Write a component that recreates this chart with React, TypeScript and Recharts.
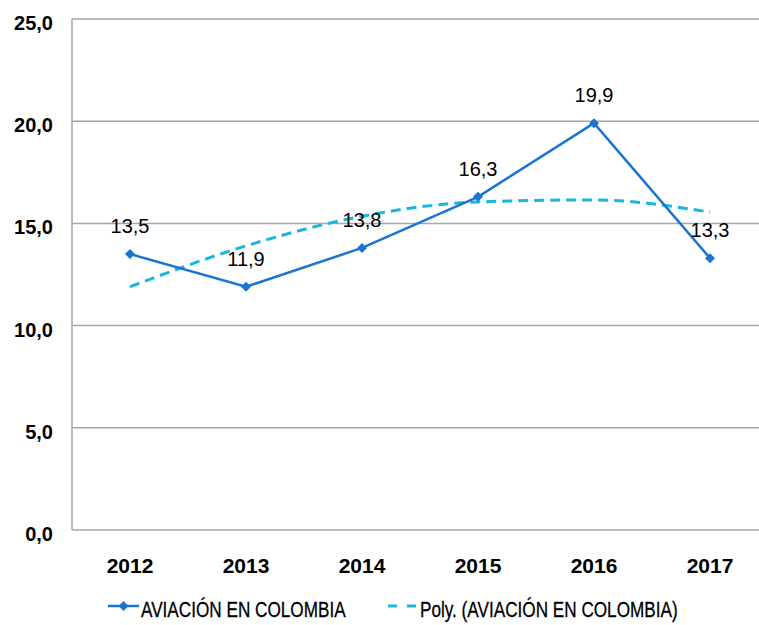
import { LineChart, Line, XAxis, YAxis, CartesianGrid, Legend, LabelList } from "recharts"

const years = ["2012", "2013", "2014", "2015", "2016", "2017"]
const aviacion = [13.5, 11.9, 13.8, 16.3, 19.9, 13.3]
const poly = [11.9, 13.9, 15.35, 16.05, 16.15, 15.55]
const yTicks = [0, 5, 10, 15, 20, 25]

const data = years.map((year, i) => ({ year, aviacion: aviacion[i], poly: poly[i] }))

const FONT = "'Liberation Sans', Arial, sans-serif"
const BLUE = "#1a74d2"
const CYAN = "#19b6de"

const fmt = (v: number) => v.toFixed(1).replace(".", ",")

const Diamond = ({ cx, cy }: any) => {
  if (cx == null || cy == null) return null
  return <path d={`M${cx},${cy - 5} L${cx + 5},${cy} L${cx},${cy + 5} L${cx - 5},${cy} Z`} fill={BLUE} />
}

const ValueLabel = ({ x, y, value }: any) => (
  <text x={x} y={y - 21} textAnchor="middle" fontFamily={FONT} fontSize={20} fill="#000">
    {fmt(value)}
  </text>
)

const YTick = ({ x, y, payload }: any) => (
  <text x={x - 11} y={y + 11} textAnchor="end" fontFamily={FONT} fontSize={20} fontWeight={700} fill="#000">
    {fmt(payload.value)}
  </text>
)

const XTick = ({ x, y, payload }: any) => (
  <text x={x} y={y + 35} textAnchor="middle" fontFamily={FONT} fontSize={21} fontWeight={700} fill="#000">
    {payload.value}
  </text>
)

// legend text is narrow (Arial Narrow look)
const LegendBox = () => (
  <svg width={759} height={40} style={{ display: "block" }}>
    <line x1={108} y1={21} x2={139} y2={21} stroke={BLUE} strokeWidth={2.5} />
    <path d="M123.5,16 L128.5,21 L123.5,26 L118.5,21 Z" fill={BLUE} />
    <text transform="translate(141,32) scale(0.78,1)" fontFamily={FONT} fontSize={22} stroke="#000" strokeWidth={0.3} fill="#000">
      AVIACIÓN EN COLOMBIA
    </text>
    <line x1={388} y1={21} x2={416} y2={21} stroke={CYAN} strokeWidth={3} strokeDasharray="9 10" />
    <text transform="translate(420,32) scale(0.78,1)" fontFamily={FONT} fontSize={22} stroke="#000" strokeWidth={0.3} fill="#000">
      Poly. (AVIACIÓN EN COLOMBIA)
    </text>
  </svg>
)

export default function App() {
  return (
    <div style={{ position: "fixed", left: 0, top: 0, width: 759, height: 625, overflow: "hidden", background: "#fff" }}>
      <LineChart width={770} height={625} data={data} margin={{ top: 19, right: 2, bottom: 0, left: 0 }}>
        <CartesianGrid vertical={false} stroke="#a6a6a6" strokeWidth={1.5} />
        <XAxis
          dataKey="year"
          axisLine={false}
          tickLine={false}
          padding={{ left: 58, right: 58 }}
          height={55}
          tick={<XTick />}
        />
        <YAxis
          domain={[0, 25]}
          ticks={yTicks}
          width={72}
          axisLine={{ stroke: "#a6a6a6", strokeWidth: 1.5 }}
          tickLine={false}
          tick={<YTick />}
        />
        <Legend verticalAlign="bottom" height={40} content={<LegendBox />} />
        <Line
          type="monotone"
          dataKey="poly"
          stroke={CYAN}
          strokeWidth={3}
          strokeDasharray="10 6"
          dot={false}
          isAnimationActive={false}
        />
        <Line
          type="linear"
          dataKey="aviacion"
          stroke={BLUE}
          strokeWidth={2.5}
          dot={<Diamond />}
          isAnimationActive={false}
        >
          <LabelList dataKey="aviacion" content={<ValueLabel />} />
        </Line>
      </LineChart>
    </div>
  )
}
